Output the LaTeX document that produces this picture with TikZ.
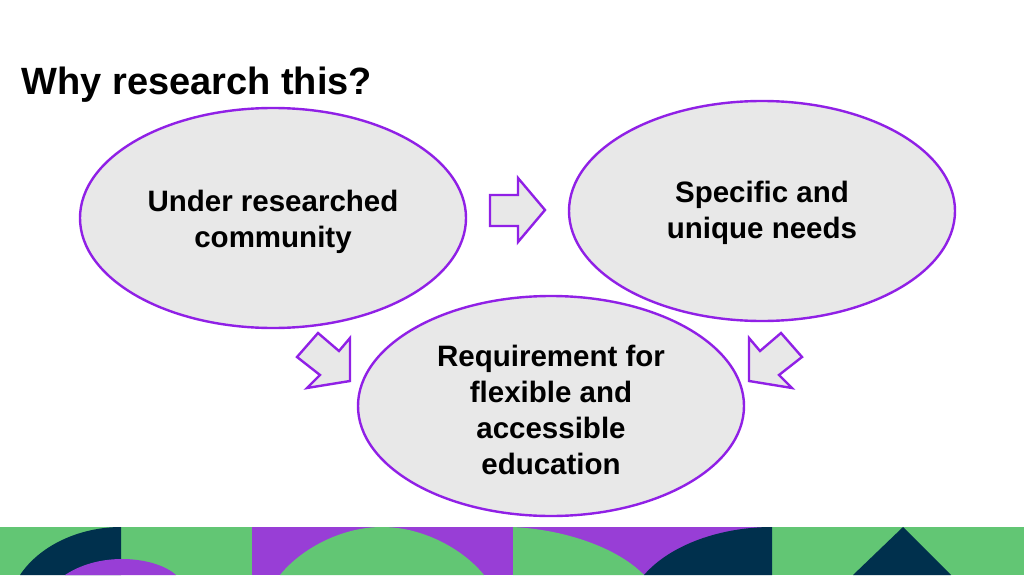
\documentclass[tikz,border=0pt]{standalone}
\usepackage{fontspec}
\setmainfont{Liberation Sans}
\definecolor{violet}{RGB}{144, 32, 230}
\definecolor{bubble}{RGB}{232, 232, 232}
\definecolor{leaf}{RGB}{98, 198, 116}
\definecolor{plum}{RGB}{152, 62, 214}
\definecolor{navy}{RGB}{0, 48, 77}
\tikzset{
  idea/.style={ellipse, draw=violet, line width=2.4pt, fill=bubble,
    minimum width=386pt, minimum height=220pt},
  label/.style={align=center, font=\fontsize{29.5}{36}\selectfont\bfseries},
  flow/.style={draw=violet, line width=2.4pt, fill=bubble, line join=miter}
}
\usetikzlibrary{shapes.geometric}
\begin{document}
\begin{tikzpicture}[x=1pt, y=-1pt]
\useasboundingbox (0,0) rectangle (1024,575);
% title
\node[anchor=west, font=\fontsize{38}{40}\selectfont\bfseries] (title) at (18,85) {Why research this?};
% ideas
\node[idea] (under) at (273,218) {};
\node[idea] (needs) at (762,211) {};
\node[idea] (flex) at (551,406) {};
\node[label] (underText) at (273,222) {Under researched\\community};
\node[label] (needsText) at (762,213) {Specific and\\unique needs};
\node[label] (flexText) at (551,410) {Requirement for\\flexible and\\accessible\\education};
% arrows
\draw[flow] (490,195) -- (518,195) -- (518,178) -- (545,210) -- (518,242)
  -- (518,226) -- (490,226) -- cycle;
\draw[flow] (318,333) -- (339,351) -- (350,338) -- (350,381) -- (307,388)
  -- (320,375) -- (297,357) -- cycle;
\draw[flow] (781,333) -- (760,351) -- (749,338) -- (749,381) -- (792,388)
  -- (779,375) -- (802,357) -- cycle;
% bottom strip
\fill[leaf] (0,527) rectangle (252,575);
\fill[plum] (252,527) rectangle (513,575);
\fill[plum] (513,527) rectangle (772,575);
\fill[leaf] (772,527) rectangle (1024,575);
\fill[navy] (20,575) .. controls (40,545) and (80,527) .. (121,527) -- (121,575) -- cycle;
\fill[plum] (65,575) .. controls (80,565) and (100,559) .. (122,559)
  .. controls (144,559) and (165,565) .. (176,575) -- cycle;
\fill[leaf] (280,575) .. controls (300,550) and (340,527) .. (382,527)
  .. controls (424,527) and (464,550) .. (484,575) -- cycle;
\fill[leaf] (513,527) .. controls (570,530) and (620,550) .. (644,575) -- (513,575) -- cycle;
\fill[navy] (644,575) .. controls (670,545) and (720,527) .. (772,527) -- (772,575) -- cycle;
\fill[navy] (853,575) -- (903,527) -- (951,575) -- cycle;
\end{tikzpicture}
\end{document}
